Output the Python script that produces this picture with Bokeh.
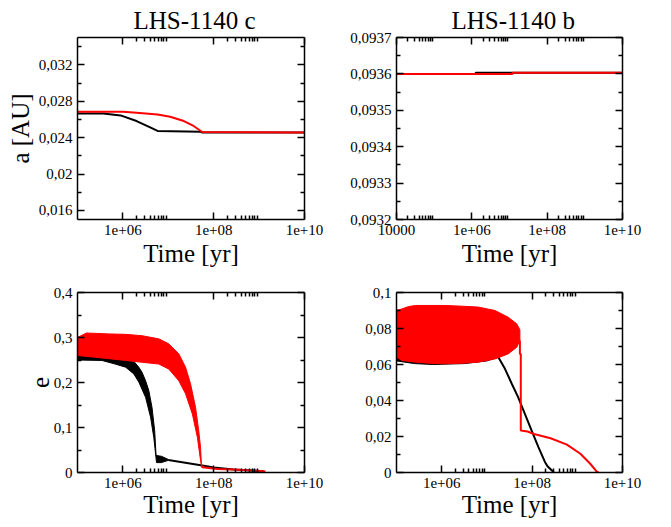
from bokeh.plotting import figure
from bokeh.models import LogAxis, LinearAxis, FixedTicker, CustomJSTickFormatter, Range1d
from bokeh.layouts import gridplot
from bokeh.embed import file_html
from bokeh.resources import INLINE

FONT = "Liberation Serif"
RED = "#ff0000"

# ---------------- tick values / labels ----------------
x_major_ticks = [1e4, 1e6, 1e8, 1e10]
x_major_labels = ["10000", "1e+06", "1e+08", "1e+10"]
x_minor_ticks = [m * 10.0 ** e for e in (4, 6, 8) for m in range(2, 10)]

ac_ticks = [0.016, 0.020, 0.024, 0.028, 0.032]
ac_labels = ["0,016", "0,02", "0,024", "0,028", "0,032"]
ac_minor = [0.018, 0.022, 0.026, 0.030, 0.034]

ab_ticks = [0.0932, 0.0933, 0.0934, 0.0935, 0.0936, 0.0937]
ab_labels = ["0,0932", "0,0933", "0,0934", "0,0935", "0,0936", "0,0937"]
ab_minor = [0.09325, 0.09335, 0.09345, 0.09355, 0.09365]

ec_ticks = [0.0, 0.1, 0.2, 0.3, 0.4]
ec_labels = ["0", "0,1", "0,2", "0,3", "0,4"]
ec_minor = [0.05, 0.15, 0.25, 0.35]

eb_ticks = [0.0, 0.02, 0.04, 0.06, 0.08, 0.1]
eb_labels = ["0", "0,02", "0,04", "0,06", "0,08", "0,1"]
eb_minor = [0.01, 0.03, 0.05, 0.07, 0.09]

# ---------------- data: semi-major axis, LHS-1140 c ----------------
ac_black_t = [1.0e5, 3.7e5, 8.9e5, 2.0e6, 4.1e6, 5.8e6, 5.1e7, 5.6e7, 1.0e10]
ac_black_a = [0.02666, 0.02666, 0.02644, 0.02582, 0.02509, 0.02473, 0.02465, 0.02455, 0.02455]
ac_red_t = [1.0e5, 1.0e6, 2.0e6, 5.8e6, 1.1e7, 2.2e7, 3.6e7, 5.6e7, 1.0e10]
ac_red_a = [0.02683, 0.02683, 0.02672, 0.02655, 0.02629, 0.02582, 0.02528, 0.02462, 0.02455]

# ---------------- data: semi-major axis, LHS-1140 b ----------------
ab_black_t = [1.0e4, 1.26e6, 1.26e6, 1.0e10]
ab_black_a = [0.09360, 0.09360, 0.0936035, 0.0936035]
ab_red_t = [1.0e4, 1.2e7, 1.2e7, 1.0e10]
ab_red_a = [0.09360, 0.09360, 0.093603, 0.093603]

# ---------------- data: eccentricity, LHS-1140 c ----------------
ec_black_up_t = [1.0e5, 3.47e5, 6.76e5, 1.15e6, 1.74e6, 2.24e6, 2.63e6, 3.16e6, 3.72e6,
                 4.37e6, 5.01e6, 5.37e6, 7.08e6, 1.0e7]
ec_black_up_e = [0.262, 0.256, 0.2526, 0.2504, 0.247, 0.234, 0.223, 0.204, 0.182,
                 0.145, 0.093, 0.038, 0.036, 0.029]
ec_black_lo_t = [1.0e5, 3.47e5, 6.76e5, 1.15e6, 1.74e6, 2.24e6, 3.16e6, 4.07e6, 4.79e6,
                 5.25e6, 5.5e6, 7.08e6, 1.0e7]
ec_black_lo_e = [0.250, 0.249, 0.241, 0.234, 0.219, 0.201, 0.167, 0.123, 0.078,
                 0.041, 0.022, 0.022, 0.027]
ec_black_tail_t = [1.0e7, 5.62e7, 1.0e8, 2.75e8, 1.26e9]
ec_black_tail_e = [0.028, 0.0156, 0.011, 0.0065, 0.003]

ec_red_up_t = [1.0e5, 1.58e5, 4.9e5, 1.15e6, 2.63e6, 6.17e6, 1.02e7, 1.70e7, 2.40e7,
               3.09e7, 3.98e7, 4.68e7, 5.13e7, 5.37e7]
ec_red_up_e = [0.300, 0.310, 0.308, 0.307, 0.304, 0.297, 0.286, 0.264, 0.234,
               0.197, 0.145, 0.093, 0.056, 0.016]
ec_red_lo_t = [1.0e5, 2.51e5, 1.15e6, 2.63e6, 6.17e6, 1.02e7, 1.70e7, 2.40e7, 3.39e7,
               4.37e7, 5.13e7, 5.37e7]
ec_red_lo_e = [0.260, 0.256, 0.249, 0.245, 0.241, 0.230, 0.204, 0.175, 0.130,
               0.078, 0.027, 0.016]
ec_red_tail_t = [5.37e7, 5.62e7, 1.2e8, 2.75e8, 1.26e9, 1.38e9]
ec_red_tail_e = [0.016, 0.0117, 0.008, 0.0067, 0.003, 0.0025]

# ---------------- data: eccentricity, LHS-1140 b ----------------
eb_black_up_t = [1.0e5, 1.0e6, 1.0e7, 1.78e7]
eb_black_up_e = [0.090, 0.091, 0.088, 0.072]
eb_black_lo_t = [1.0e5, 2.51e5, 6.31e5, 3.16e6, 1.0e7, 1.78e7]
eb_black_lo_e = [0.062, 0.0605, 0.060, 0.0605, 0.062, 0.0641]
eb_black_tail_t = [1.78e7, 2.51e7, 3.55e7, 4.90e7, 6.92e7, 9.77e7, 1.38e8, 1.91e8, 2.19e8, 2.82e8, 3.02e8]
eb_black_tail_e = [0.0641, 0.0576, 0.0493, 0.0419, 0.0326, 0.0233, 0.0141, 0.006, 0.0035, 0.0008, 0.0]

eb_red_up_t = [1.0e5, 1.32e5, 1.86e5, 2.63e5, 1.2e6, 2.82e6, 6.46e6, 1.51e7, 2.95e7, 4.57e7, 5.37e7]
eb_red_up_e = [0.0900, 0.0909, 0.0922, 0.0928, 0.0928, 0.0924, 0.0919, 0.0900, 0.0863, 0.0826, 0.0793]
eb_red_lo_t = [1.0e5, 1.32e5, 2.63e5, 5.13e5, 1.2e6, 2.82e6, 6.46e6, 1.51e7, 2.95e7, 4.57e7, 5.37e7]
eb_red_lo_e = [0.0641, 0.0622, 0.0613, 0.0607, 0.0604, 0.0607, 0.0613, 0.0631, 0.0659, 0.0696, 0.0733]
eb_red_tail_t = [5.37e7, 5.37e7, 5.62e7, 5.62e7, 7.9e7, 1.10e8, 2.57e8, 5.89e8, 1.17e9, 1.91e9, 2.69e9, 2.95e9]
eb_red_tail_e = [0.0733, 0.0659, 0.0659, 0.0233, 0.0228, 0.0214, 0.019, 0.0155, 0.0104, 0.005, 0.0005, 0.0]

TITLES = ["LHS-1140 c", "LHS-1140 b"]

JS = """
let best = 0; let bd = Infinity;
for (let i = 0; i < tv.length; i++) {
  const d = Math.abs(tv[i] - tick) / Math.max(Math.abs(tv[i]), 1e-12);
  if (d < bd) { bd = d; best = i; }
}
return tl[best];
"""


def fmt(ticks, labels):
    return CustomJSTickFormatter(args=dict(tv=list(ticks), tl=list(labels)), code=JS)


def style_axis(ax, ticker, formatter=None):
    ax.ticker = ticker
    ax.major_tick_in = 7
    ax.major_tick_out = 0
    ax.minor_tick_in = 4
    ax.minor_tick_out = 0
    ax.major_tick_line_width = 1.5
    ax.minor_tick_line_width = 1.5
    ax.major_tick_line_color = "black"
    ax.minor_tick_line_color = "black"
    ax.axis_line_width = 1.5
    ax.axis_line_color = "black"
    if formatter is not None:
        ax.formatter = formatter
        ax.major_label_text_font = FONT
        ax.major_label_text_font_size = "15px"
        ax.major_label_text_color = "black"
        ax.major_label_standoff = 5
    else:
        ax.major_label_text_font_size = "1px"
        ax.major_label_text_alpha = 0
        ax.major_label_standoff = 0


def panel(x_start, y_rng, yt, yl, ym, ylabel, borders, frame_w, frame_h, lab_standoff,
          title=None, title_off=0):
    left, right, top, bottom = borders
    p = figure(x_axis_type="log", x_range=Range1d(x_start, 1e10), y_range=Range1d(*y_rng),
               frame_width=frame_w, frame_height=frame_h,
               min_border_left=left, min_border_right=right, min_border_top=top,
               min_border_bottom=bottom, output_backend="svg", toolbar_location=None,
               background_fill_color="white", border_fill_color="white")
    p.grid.visible = False
    p.outline_line_color = None
    xt = FixedTicker(ticks=x_major_ticks, minor_ticks=x_minor_ticks)
    ytk = FixedTicker(ticks=yt, minor_ticks=ym)
    xa = p.xaxis[0]
    style_axis(xa, xt, fmt(x_major_ticks, x_major_labels))
    xa.axis_label = "Time [yr]"
    xa.axis_label_text_font = FONT
    xa.axis_label_text_font_size = "25px"
    xa.axis_label_text_font_style = "normal"
    xa.axis_label_text_color = "black"
    xa.axis_label_standoff = lab_standoff
    ya = p.yaxis[0]
    style_axis(ya, ytk, fmt(yt, yl))
    if ylabel:
        ya.axis_label = ylabel
        ya.axis_label_text_font = FONT
        ya.axis_label_text_font_size = "25px"
        ya.axis_label_text_font_style = "normal"
        ya.axis_label_text_color = "black"
        ya.axis_label_standoff = 2
    top_ax = LogAxis()
    style_axis(top_ax, FixedTicker(ticks=x_major_ticks, minor_ticks=x_minor_ticks))
    p.add_layout(top_ax, "above")
    right_ax = LinearAxis()
    style_axis(right_ax, FixedTicker(ticks=yt, minor_ticks=ym))
    p.add_layout(right_ax, "right")
    if title:
        p.title.text = title
        p.title.text_font = FONT
        p.title.text_font_size = "25px"
        p.title.text_font_style = "normal"
        p.title.text_color = "black"
        p.title.align = "left"
        p.title.offset = title_off
        p.title.standoff = 7
    return p


def band(p, up_t, up_v, lo_t, lo_v, color):
    xs = list(up_t) + list(reversed(lo_t))
    ys = list(up_v) + list(reversed(lo_v))
    p.patch(xs, ys, fill_color=color, line_color=color, line_width=1)


# top-left: a, LHS-1140 c
p1 = panel(1e5, (0.015, 0.035), ac_ticks, ac_labels, ac_minor, "a [AU]",
           (77, 31, 37, 56), 227, 182, 2, TITLES[0], 56)
p1.line(ac_black_t, ac_black_a, line_color="black", line_width=2)
p1.line(ac_red_t, ac_red_a, line_color=RED, line_width=2)

# top-right: a, LHS-1140 b
p2 = panel(1e4, (0.0932, 0.0937), ab_ticks, ab_labels, ab_minor, None,
           (61, 47, 37, 56), 226, 182, 2, TITLES[1], 55)
p2.line(ab_black_t, ab_black_a, line_color="black", line_width=2)
p2.line(ab_red_t, ab_red_a, line_color=RED, line_width=2)

# bottom-left: e, LHS-1140 c
p3 = panel(1e5, (0.0, 0.4), ec_ticks, ec_labels, ec_minor, "e",
           (77, 31, 17, 52), 227, 180, 0)
band(p3, ec_black_up_t, ec_black_up_e, ec_black_lo_t, ec_black_lo_e, "black")
p3.line(ec_black_tail_t, ec_black_tail_e, line_color="black", line_width=2)
band(p3, ec_red_up_t, ec_red_up_e, ec_red_lo_t, ec_red_lo_e, RED)
p3.line(ec_red_tail_t, ec_red_tail_e, line_color=RED, line_width=2)

# bottom-right: e, LHS-1140 b
p4 = panel(1e5, (0.0, 0.1), eb_ticks, eb_labels, eb_minor, None,
           (61, 47, 17, 52), 226, 180, 0)
band(p4, eb_black_up_t, eb_black_up_e, eb_black_lo_t, eb_black_lo_e, "black")
p4.line(eb_black_tail_t, eb_black_tail_e, line_color="black", line_width=2)
band(p4, eb_red_up_t, eb_red_up_e, eb_red_lo_t, eb_red_lo_e, RED)
p4.line(eb_red_tail_t, eb_red_tail_e, line_color=RED, line_width=2)

grid = gridplot([[p1, p2], [p3, p4]], toolbar_location=None)

with open("out.html", "w") as f:
    f.write(file_html(grid, INLINE))
